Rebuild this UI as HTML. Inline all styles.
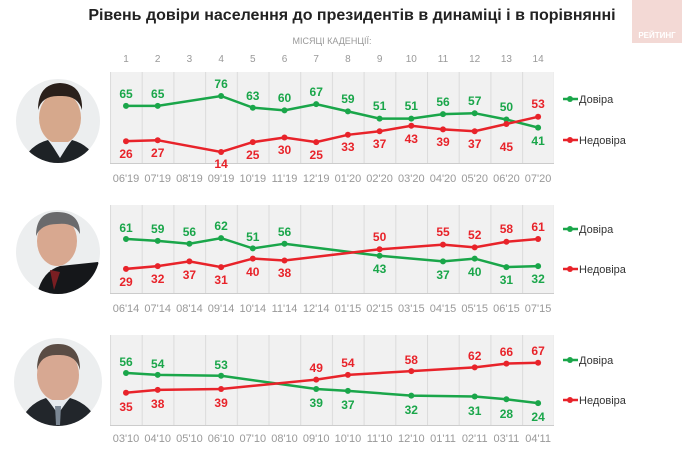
<!DOCTYPE html>
<html><head><meta charset="utf-8"><style>
html,body{margin:0;padding:0;background:#fff}
svg{display:block}
text{font-family:"Liberation Sans Narrow","Liberation Sans",sans-serif}
.g{fill:#1aa64a;font-weight:bold;font-size:12px;text-anchor:middle}
.r{fill:#e8232a;font-weight:bold;font-size:12px;text-anchor:middle}
.ax{fill:#999;font-size:11px;text-anchor:middle}
.lg{fill:#333;font-size:11px}
</style></head><body>
<svg width="690" height="453" viewBox="0 0 690 453" xmlns="http://www.w3.org/2000/svg">
<defs>
<pattern id="grid" x="110" y="0" width="31.7" height="453" patternUnits="userSpaceOnUse">
<rect width="31.7" height="453" fill="#f1f1f1"/>
<line x1="0.5" y1="0" x2="0.5" y2="453" stroke="#dcdcdc" stroke-width="1"/>
</pattern>
<clipPath id="c1"><circle cx="58" cy="121" r="42"/></clipPath>
<clipPath id="c2"><circle cx="58" cy="252" r="42"/></clipPath>
<clipPath id="c3"><circle cx="58" cy="382" r="44"/></clipPath>
</defs>
<rect x="632" y="0" width="50" height="43" fill="#f3d9d5"/>
<text x="657" y="38" font-size="8" font-weight="bold" fill="#fff" text-anchor="middle" style="font-family:'Liberation Sans',sans-serif">РЕЙТИНГ</text>
<text x="352" y="20" font-size="16" font-weight="bold" fill="#222" text-anchor="middle" style="font-family:'Liberation Sans',sans-serif">Рівень довіри населення до президентів в динаміці і в порівнянні</text>
<text x="332" y="44" font-size="9" fill="#999" text-anchor="middle">МІСЯЦІ КАДЕНЦІЇ:</text>
<g class="ax" style="font-size:10px">
<text x="126" y="62">1</text><text x="157.7" y="62">2</text><text x="189.4" y="62">3</text><text x="221.1" y="62">4</text><text x="252.8" y="62">5</text><text x="284.5" y="62">6</text><text x="316.2" y="62">7</text><text x="347.9" y="62">8</text><text x="379.6" y="62">9</text><text x="411.3" y="62">10</text><text x="443" y="62">11</text><text x="474.7" y="62">12</text><text x="506.4" y="62">13</text><text x="538.1" y="62">14</text>
</g>

<!-- photos -->
<g clip-path="url(#c1)"><rect x="10" y="75" width="100" height="100" fill="#eceeef"/>
<ellipse cx="60" cy="118" rx="21" ry="26" fill="#d6a88c"/><path d="M38 110 Q38 84 60 83 Q83 84 82 110 Q78 95 60 96 Q42 95 38 110Z" fill="#2a201b"/>
<path d="M20 170 Q26 146 48 140 L60 156 L72 140 Q94 146 100 170Z" fill="#1e2226"/><path d="M50 142 L60 158 L70 142Z" fill="#e8ecf0"/></g>
<g clip-path="url(#c2)"><rect x="10" y="205" width="100" height="100" fill="#eceeef"/>
<ellipse cx="57" cy="241" rx="20" ry="25" fill="#d8a890"/><path d="M36 236 Q36 212 57 212 Q80 212 80 234 Q74 222 57 224 Q41 224 36 236Z" fill="#6a6a6c"/>
<path d="M36 300 Q40 272 60 266 L98 262 Q104 280 100 300Z" fill="#15171a"/><path d="M50 270 L54 290 L60 272Z" fill="#7a1e22"/></g>
<g clip-path="url(#c3)"><rect x="10" y="335" width="100" height="100" fill="#eceeef"/>
<ellipse cx="58" cy="375" rx="21" ry="26" fill="#d7a892"/><path d="M37 370 Q37 344 58 344 Q80 344 80 370 Q76 354 58 355 Q41 354 37 370Z" fill="#5a4c44"/>
<path d="M18 430 Q24 405 46 398 L58 412 L70 398 Q94 405 100 430Z" fill="#22262b"/><path d="M48 400 L58 414 L68 400Z" fill="#e6eaee"/><path d="M55 406 L61 406 L60 425 L56 425Z" fill="#7b8794"/></g>

<!-- panel backgrounds -->
<rect x="110" y="72" width="444" height="91" fill="url(#grid)"/>
<rect x="110" y="205" width="444" height="88" fill="url(#grid)"/>
<rect x="110" y="335" width="444" height="90" fill="url(#grid)"/>
<g stroke="#ccc"><line x1="110" y1="163.5" x2="554" y2="163.5"/><line x1="110" y1="293.5" x2="554" y2="293.5"/><line x1="110" y1="425.5" x2="554" y2="425.5"/></g>

<!-- Panel 1 -->
<polyline fill="none" stroke="#1aa64a" stroke-width="2.5" points="126,105.9 157.7,105.9 221.1,96 252.8,107.7 284.5,110.4 316.2,104.1 347.9,111.4 379.6,118.6 411.3,118.6 443,114.1 474.7,113.2 506.4,119.5 538.1,127.6"/>
<polyline fill="none" stroke="#e8232a" stroke-width="2.5" points="126,141.2 157.7,140.2 221.1,152 252.8,142.1 284.5,137.5 316.2,142.1 347.9,134.8 379.6,131.2 411.3,125.8 443,129.4 474.7,131.2 506.4,124 538.1,116.8"/>
<g fill="#1aa64a"><circle cx="126" cy="105.9" r="3"/><circle cx="157.7" cy="105.9" r="3"/><circle cx="221.1" cy="96" r="3"/><circle cx="252.8" cy="107.7" r="3"/><circle cx="284.5" cy="110.4" r="3"/><circle cx="316.2" cy="104.1" r="3"/><circle cx="347.9" cy="111.4" r="3"/><circle cx="379.6" cy="118.6" r="3"/><circle cx="411.3" cy="118.6" r="3"/><circle cx="443" cy="114.1" r="3"/><circle cx="474.7" cy="113.2" r="3"/><circle cx="506.4" cy="119.5" r="3"/><circle cx="538.1" cy="127.6" r="3"/></g>
<g fill="#e8232a"><circle cx="126" cy="141.2" r="3"/><circle cx="157.7" cy="140.2" r="3"/><circle cx="221.1" cy="152" r="3"/><circle cx="252.8" cy="142.1" r="3"/><circle cx="284.5" cy="137.5" r="3"/><circle cx="316.2" cy="142.1" r="3"/><circle cx="347.9" cy="134.8" r="3"/><circle cx="379.6" cy="131.2" r="3"/><circle cx="411.3" cy="125.8" r="3"/><circle cx="443" cy="129.4" r="3"/><circle cx="474.7" cy="131.2" r="3"/><circle cx="506.4" cy="124" r="3"/><circle cx="538.1" cy="116.8" r="3"/></g>
<g class="g"><text x="126" y="98">65</text><text x="157.7" y="98">65</text><text x="221.1" y="88">76</text><text x="252.8" y="100">63</text><text x="284.5" y="102">60</text><text x="316.2" y="96">67</text><text x="347.9" y="103">59</text><text x="379.6" y="110">51</text><text x="411.3" y="110">51</text><text x="443" y="106">56</text><text x="474.7" y="105">57</text><text x="506.4" y="111">50</text><text x="538.1" y="145">41</text></g>
<g class="r"><text x="126" y="158">26</text><text x="157.7" y="157">27</text><text x="221.1" y="168">14</text><text x="252.8" y="159">25</text><text x="284.5" y="154">30</text><text x="316.2" y="159">25</text><text x="347.9" y="151">33</text><text x="379.6" y="148">37</text><text x="411.3" y="143">43</text><text x="443" y="146">39</text><text x="474.7" y="148">37</text><text x="506.4" y="151">45</text><text x="538.1" y="108">53</text></g>
<g class="ax"><text x="126" y="182">06'19</text><text x="157.7" y="182">07'19</text><text x="189.4" y="182">08'19</text><text x="221.1" y="182">09'19</text><text x="252.8" y="182">10'19</text><text x="284.5" y="182">11'19</text><text x="316.2" y="182">12'19</text><text x="347.9" y="182">01'20</text><text x="379.6" y="182">02'20</text><text x="411.3" y="182">03'20</text><text x="443" y="182">04'20</text><text x="474.7" y="182">05'20</text><text x="506.4" y="182">06'20</text><text x="538.1" y="182">07'20</text></g>

<!-- Panel 2 -->
<polyline fill="none" stroke="#1aa64a" stroke-width="2.5" points="126,239 157.7,240.9 189.4,243.7 221.1,238.1 252.8,248.4 284.5,243.7 379.6,255.8 443,261.4 474.7,258.6 506.4,267.1 538.1,266.1"/>
<polyline fill="none" stroke="#e8232a" stroke-width="2.5" points="126,268.9 157.7,266.1 189.4,261.4 221.1,267.1 252.8,258.6 284.5,260.5 379.6,249.3 443,244.6 474.7,247.4 506.4,241.8 538.1,239"/>
<g fill="#1aa64a"><circle cx="126" cy="239" r="3"/><circle cx="157.7" cy="240.9" r="3"/><circle cx="189.4" cy="243.7" r="3"/><circle cx="221.1" cy="238.1" r="3"/><circle cx="252.8" cy="248.4" r="3"/><circle cx="284.5" cy="243.7" r="3"/><circle cx="379.6" cy="255.8" r="3"/><circle cx="443" cy="261.4" r="3"/><circle cx="474.7" cy="258.6" r="3"/><circle cx="506.4" cy="267.1" r="3"/><circle cx="538.1" cy="266.1" r="3"/></g>
<g fill="#e8232a"><circle cx="126" cy="268.9" r="3"/><circle cx="157.7" cy="266.1" r="3"/><circle cx="189.4" cy="261.4" r="3"/><circle cx="221.1" cy="267.1" r="3"/><circle cx="252.8" cy="258.6" r="3"/><circle cx="284.5" cy="260.5" r="3"/><circle cx="379.6" cy="249.3" r="3"/><circle cx="443" cy="244.6" r="3"/><circle cx="474.7" cy="247.4" r="3"/><circle cx="506.4" cy="241.8" r="3"/><circle cx="538.1" cy="239" r="3"/></g>
<g class="g"><text x="126" y="232">61</text><text x="157.7" y="233">59</text><text x="189.4" y="236">56</text><text x="221.1" y="230">62</text><text x="252.8" y="241">51</text><text x="284.5" y="236">56</text><text x="379.6" y="273">43</text><text x="443" y="279">37</text><text x="474.7" y="276">40</text><text x="506.4" y="284">31</text><text x="538.1" y="283">32</text></g>
<g class="r"><text x="126" y="286">29</text><text x="157.7" y="283">32</text><text x="189.4" y="279">37</text><text x="221.1" y="284">31</text><text x="252.8" y="276">40</text><text x="284.5" y="277">38</text><text x="379.6" y="241">50</text><text x="443" y="236">55</text><text x="474.7" y="239">52</text><text x="506.4" y="233">58</text><text x="538.1" y="231">61</text></g>
<g class="ax"><text x="126" y="312">06'14</text><text x="157.7" y="312">07'14</text><text x="189.4" y="312">08'14</text><text x="221.1" y="312">09'14</text><text x="252.8" y="312">10'14</text><text x="284.5" y="312">11'14</text><text x="316.2" y="312">12'14</text><text x="347.9" y="312">01'15</text><text x="379.6" y="312">02'15</text><text x="411.3" y="312">03'15</text><text x="443" y="312">04'15</text><text x="474.7" y="312">05'15</text><text x="506.4" y="312">06'15</text><text x="538.1" y="312">07'15</text></g>

<!-- Panel 3 -->
<polyline fill="none" stroke="#1aa64a" stroke-width="2.5" points="126,373 157.7,374.9 221.1,375.8 316.2,389 347.9,390.9 411.3,395.6 474.7,396.5 506.4,399.3 538.1,403.1"/>
<polyline fill="none" stroke="#e8232a" stroke-width="2.5" points="126,392.7 157.7,389.9 221.1,389 316.2,379.6 347.9,374.9 411.3,371.1 474.7,367.4 506.4,363.6 538.1,362.7"/>
<g fill="#1aa64a"><circle cx="126" cy="373" r="3"/><circle cx="157.7" cy="374.9" r="3"/><circle cx="221.1" cy="375.8" r="3"/><circle cx="316.2" cy="389" r="3"/><circle cx="347.9" cy="390.9" r="3"/><circle cx="411.3" cy="395.6" r="3"/><circle cx="474.7" cy="396.5" r="3"/><circle cx="506.4" cy="399.3" r="3"/><circle cx="538.1" cy="403.1" r="3"/></g>
<g fill="#e8232a"><circle cx="126" cy="392.7" r="3"/><circle cx="157.7" cy="389.9" r="3"/><circle cx="221.1" cy="389" r="3"/><circle cx="316.2" cy="379.6" r="3"/><circle cx="347.9" cy="374.9" r="3"/><circle cx="411.3" cy="371.1" r="3"/><circle cx="474.7" cy="367.4" r="3"/><circle cx="506.4" cy="363.6" r="3"/><circle cx="538.1" cy="362.7" r="3"/></g>
<g class="g"><text x="126" y="366">56</text><text x="157.7" y="368">54</text><text x="221.1" y="369">53</text><text x="316.2" y="407">39</text><text x="347.9" y="409">37</text><text x="411.3" y="414">32</text><text x="474.7" y="415">31</text><text x="506.4" y="418">28</text><text x="538.1" y="421">24</text></g>
<g class="r"><text x="126" y="411">35</text><text x="157.7" y="408">38</text><text x="221.1" y="407">39</text><text x="316.2" y="372">49</text><text x="347.9" y="367">54</text><text x="411.3" y="364">58</text><text x="474.7" y="360">62</text><text x="506.4" y="356">66</text><text x="538.1" y="355">67</text></g>
<g class="ax"><text x="126" y="442">03'10</text><text x="157.7" y="442">04'10</text><text x="189.4" y="442">05'10</text><text x="221.1" y="442">06'10</text><text x="252.8" y="442">07'10</text><text x="284.5" y="442">08'10</text><text x="316.2" y="442">09'10</text><text x="347.9" y="442">10'10</text><text x="379.6" y="442">11'10</text><text x="411.3" y="442">12'10</text><text x="443" y="442">01'11</text><text x="474.7" y="442">02'11</text><text x="506.4" y="442">03'11</text><text x="538.1" y="442">04'11</text></g>

<!-- legends -->
<g stroke-width="2.5">
<line x1="563" y1="99" x2="578" y2="99" stroke="#1aa64a"/><line x1="563" y1="140" x2="578" y2="140" stroke="#e8232a"/>
<line x1="563" y1="229" x2="578" y2="229" stroke="#1aa64a"/><line x1="563" y1="269" x2="578" y2="269" stroke="#e8232a"/>
<line x1="563" y1="360" x2="578" y2="360" stroke="#1aa64a"/><line x1="563" y1="400" x2="578" y2="400" stroke="#e8232a"/>
</g>
<circle cx="570" cy="99" r="3" fill="#1aa64a"/><circle cx="570" cy="140" r="3" fill="#e8232a"/>
<circle cx="570" cy="229" r="3" fill="#1aa64a"/><circle cx="570" cy="269" r="3" fill="#e8232a"/>
<circle cx="570" cy="360" r="3" fill="#1aa64a"/><circle cx="570" cy="400" r="3" fill="#e8232a"/>
<g class="lg"><text x="579" y="103">Довіра</text><text x="579" y="144">Недовіра</text><text x="579" y="233">Довіра</text><text x="579" y="273">Недовіра</text><text x="579" y="364">Довіра</text><text x="579" y="404">Недовіра</text></g>
</svg>
</body></html>
